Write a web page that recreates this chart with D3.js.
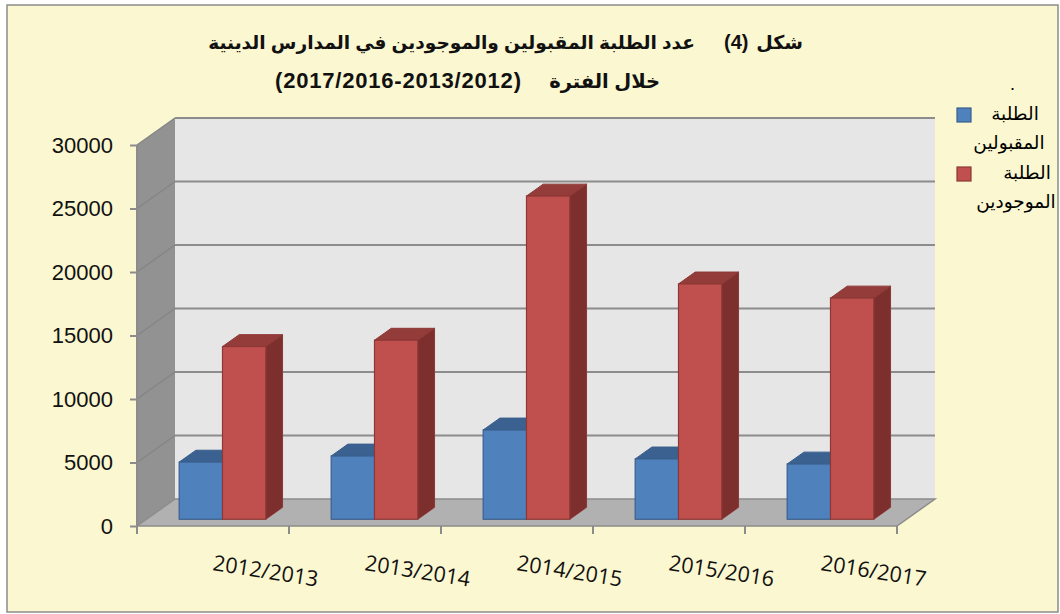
<!DOCTYPE html>
<html>
<head>
<meta charset="utf-8">
<script src="https://cdn.jsdelivr.net/npm/d3@7"></script>
<style>
    body { margin: 0; background: #ffffff; }
    svg { display: block; }
</style>
</head>
<body>
<svg id="chart" width="1060" height="614"></svg>
<script>
// values
var categories = ["2012/2013", "2013/2014", "2014/2015", "2015/2016", "2016/2017"];
var acceptedStudents = [4500, 4980, 7030, 4750, 4350];
var enrolledStudents = [13600, 14100, 25450, 18530, 17420];
var yTicks = [0, 5000, 10000, 15000, 20000, 25000, 30000];
var seriesNames = ["الطلبة المقبولين", "الطلبة الموجودين"];
var titleFigWord = "شكل";
var titleFigNum = "(4)";
var titleMain = "عدد الطلبة المقبولين والموجودين في المدارس الدينية";
var titleSubWords = "خلال الفترة";
var titleSubYears = "(2017/2016-2013/2012)";

/**
 * This function is used for drawing the 3d column chart
 * @returns {undefined}
 */
function drawStudentsChart()
{
    var svg = d3.select("#chart");

    // depth of the box (oblique projection)
    var DX = 38, DY = -27;
    var barZ = 0.25, barD = 0.44, barW = 0.285;

    var x = d3.scaleBand()
            .domain(categories)
            .range([137, 897]);

    var y = d3.scaleLinear()
            .domain([0, 30000])
            .range([526, 145]);

    var series = [
        {name: seriesNames[0], values: acceptedStudents, front: "#4f81bd", top: "#3b6190", side: "#3a5f8b", line: "#3a5f8b"},
        {name: seriesNames[1], values: enrolledStudents, front: "#c0504d", top: "#933c3a", side: "#7d2f2d", line: "#8c3836"}
    ];

    // page frame
    svg.append("rect")
            .attr("x", 7)
            .attr("y", 5)
            .attr("width", 1051)
            .attr("height", 607)
            .style("fill", "#fbf7d0")
            .style("stroke", "#8c8c8c")
            .style("stroke-width", "1.5px");

    // back wall
    svg.append("rect")
            .attr("x", x.range()[0] + DX)
            .attr("y", y(30000) + DY)
            .attr("width", x.range()[1] - x.range()[0])
            .attr("height", y(0) - y(30000))
            .style("fill", "#e6e6e6");

    // side wall
    svg.append("path")
            .attr("d", "M" + 137 + "," + y(30000) + "L" + (137 + DX) + "," + (y(30000) + DY) +
                    "L" + (137 + DX) + "," + (y(0) + DY) + "L" + 137 + "," + y(0) + "Z")
            .style("fill", "#929292");

    // floor
    svg.append("path")
            .attr("d", "M" + 137 + "," + y(0) + "L" + x.range()[1] + "," + y(0) +
                    "L" + (x.range()[1] + DX) + "," + (y(0) + DY) + "L" + (137 + DX) + "," + (y(0) + DY) + "Z")
            .style("fill", "#b1b1b1")
            .style("stroke", "#8c8c8c")
            .style("stroke-width", "1.5px");

    // gridlines on back wall + side wall
    var grid = svg.append("g");
    grid.selectAll("line.back")
            .data(yTicks.slice(1))
            .enter().append("line")
            .attr("class", "back")
            .attr("x1", 137 + DX)
            .attr("x2", x.range()[1] + DX)
            .attr("y1", function(d) { return y(d) + DY; })
            .attr("y2", function(d) { return y(d) + DY; })
            .style("stroke", "#8c8c8c")
            .style("stroke-width", "2px");
    grid.selectAll("line.side")
            .data(yTicks.slice(1))
            .enter().append("line")
            .attr("class", "side")
            .attr("x1", 137)
            .attr("x2", 137 + DX)
            .attr("y1", function(d) { return y(d); })
            .attr("y2", function(d) { return y(d) + DY; })
            .style("stroke", "#858585")
            .style("stroke-width", "1.5px");

    // bars
    var bw = x.bandwidth() * barW;
    var ox = barZ * DX, oy = barZ * DY;
    var dx = barD * DX, dy = barD * DY;

    categories.forEach(function(cat, ci) {
        series.forEach(function(s, si) {
            var x0 = x(cat) + x.bandwidth() / 2 - bw + si * bw + ox;
            var x1 = x0 + bw;
            var yt = y(s.values[ci]) + oy;
            var yb = y(0) + oy;
            var g = svg.append("g");

            g.append("path")
                    .attr("d", "M" + x1 + "," + yt + "L" + (x1 + dx) + "," + (yt + dy) +
                            "L" + (x1 + dx) + "," + (yb + dy) + "L" + x1 + "," + yb + "Z")
                    .style("fill", s.side)
                    .style("stroke", s.line)
                    .style("stroke-width", "1px");
            g.append("path")
                    .attr("d", "M" + x0 + "," + yt + "L" + x1 + "," + yt +
                            "L" + (x1 + dx) + "," + (yt + dy) + "L" + (x0 + dx) + "," + (yt + dy) + "Z")
                    .style("fill", s.top)
                    .style("stroke", s.line)
                    .style("stroke-width", "1px");
            g.append("rect")
                    .attr("x", x0)
                    .attr("y", yt)
                    .attr("width", bw)
                    .attr("height", yb - yt)
                    .style("fill", s.front)
                    .style("stroke", s.line)
                    .style("stroke-width", "1.2px");
        });
    });

    // y axis
    var yAxis = svg.append("g")
            .attr("transform", "translate(137,0)")
            .call(d3.axisLeft(y).tickValues(yTicks).tickSize(7).tickPadding(17).tickFormat(d3.format("d")));
    yAxis.selectAll("path, line").style("stroke", "#8c8c8c").style("stroke-width", "2px");
    yAxis.select("path").attr("d", "M0," + y(30000) + "V" + y(0));
    yAxis.selectAll("text")
            .style("font-family", "'Liberation Sans', Arial, sans-serif")
            .style("font-size", "22px")
            .style("fill", "#111");

    // x axis ticks at band edges
    var edges = categories.map(function(c) { return x(c); }).concat([x.range()[1]]);
    svg.selectAll("line.xtick")
            .data(edges)
            .enter().append("line")
            .attr("class", "xtick")
            .attr("x1", function(d) { return d; })
            .attr("x2", function(d) { return d; })
            .attr("y1", y(0))
            .attr("y2", y(0) + 8)
            .style("stroke", "#8c8c8c")
            .style("stroke-width", "2px");

    svg.selectAll("text.xlab")
            .data(categories)
            .enter().append("text")
            .attr("class", "xlab")
            .attr("transform", function(d) {
                return "translate(" + (x(d) + x.bandwidth() / 2 - 1) + ",570) rotate(9)";
            })
            .style("font-family", "'Open Sans', sans-serif")
            .style("font-size", "21.5px")
            .style("fill", "#111")
            .text(function(d) { return d; });

    // title
    var titleFont = "'Liberation Sans', 'DejaVu Sans', sans-serif";
    function titleText(tx, ty, txt, size, rtl) {
        return svg.append("text")
                .attr("x", tx).attr("y", ty)
                .attr("direction", rtl ? "rtl" : "ltr")
                .attr("text-anchor", "start")
                .style("font-family", titleFont)
                .style("font-size", size + "px")
                .style("font-weight", "bold")
                .style("fill", "#111")
                .text(txt);
    }
    titleText(803, 49, titleFigWord, 19, true);
    titleText(724, 49, titleFigNum, 20, false);
    titleText(695, 49, titleMain, 18.6, true);
    titleText(660, 88, titleSubWords, 19.5, true);
    titleText(275, 88, titleSubYears, 22, false).style("letter-spacing", "0.8px");

    // legend
    var legend = svg.append("g");
    legend.append("text")
            .attr("x", 1010).attr("y", 90)
            .style("font-family", titleFont).style("font-size", "18px")
            .text(".");
    var legendRows = [115, 174];
    series.forEach(function(s, i) {
        var words = s.name.split(" ");
        legend.append("rect")
                .attr("x", 957).attr("y", legendRows[i] - 7)
                .attr("width", 14).attr("height", 14)
                .style("fill", s.front)
                .style("stroke", s.line)
                .style("stroke-width", "1.2px");
        legend.append("text")
                .attr("x", i === 0 ? 1015 : 1027).attr("y", legendRows[i] + 5)
                .attr("direction", "rtl").attr("text-anchor", "middle")
                .style("font-family", titleFont).style("font-size", "18.5px")
                .text(words[0]);
        legend.append("text")
                .attr("x", i === 0 ? 1009 : 1016).attr("y", legendRows[i] + 34)
                .attr("direction", "rtl").attr("text-anchor", "middle")
                .style("font-family", titleFont).style("font-size", "18.5px")
                .text(words[1]);
    });
}

drawStudentsChart();
</script>
</body>
</html>
